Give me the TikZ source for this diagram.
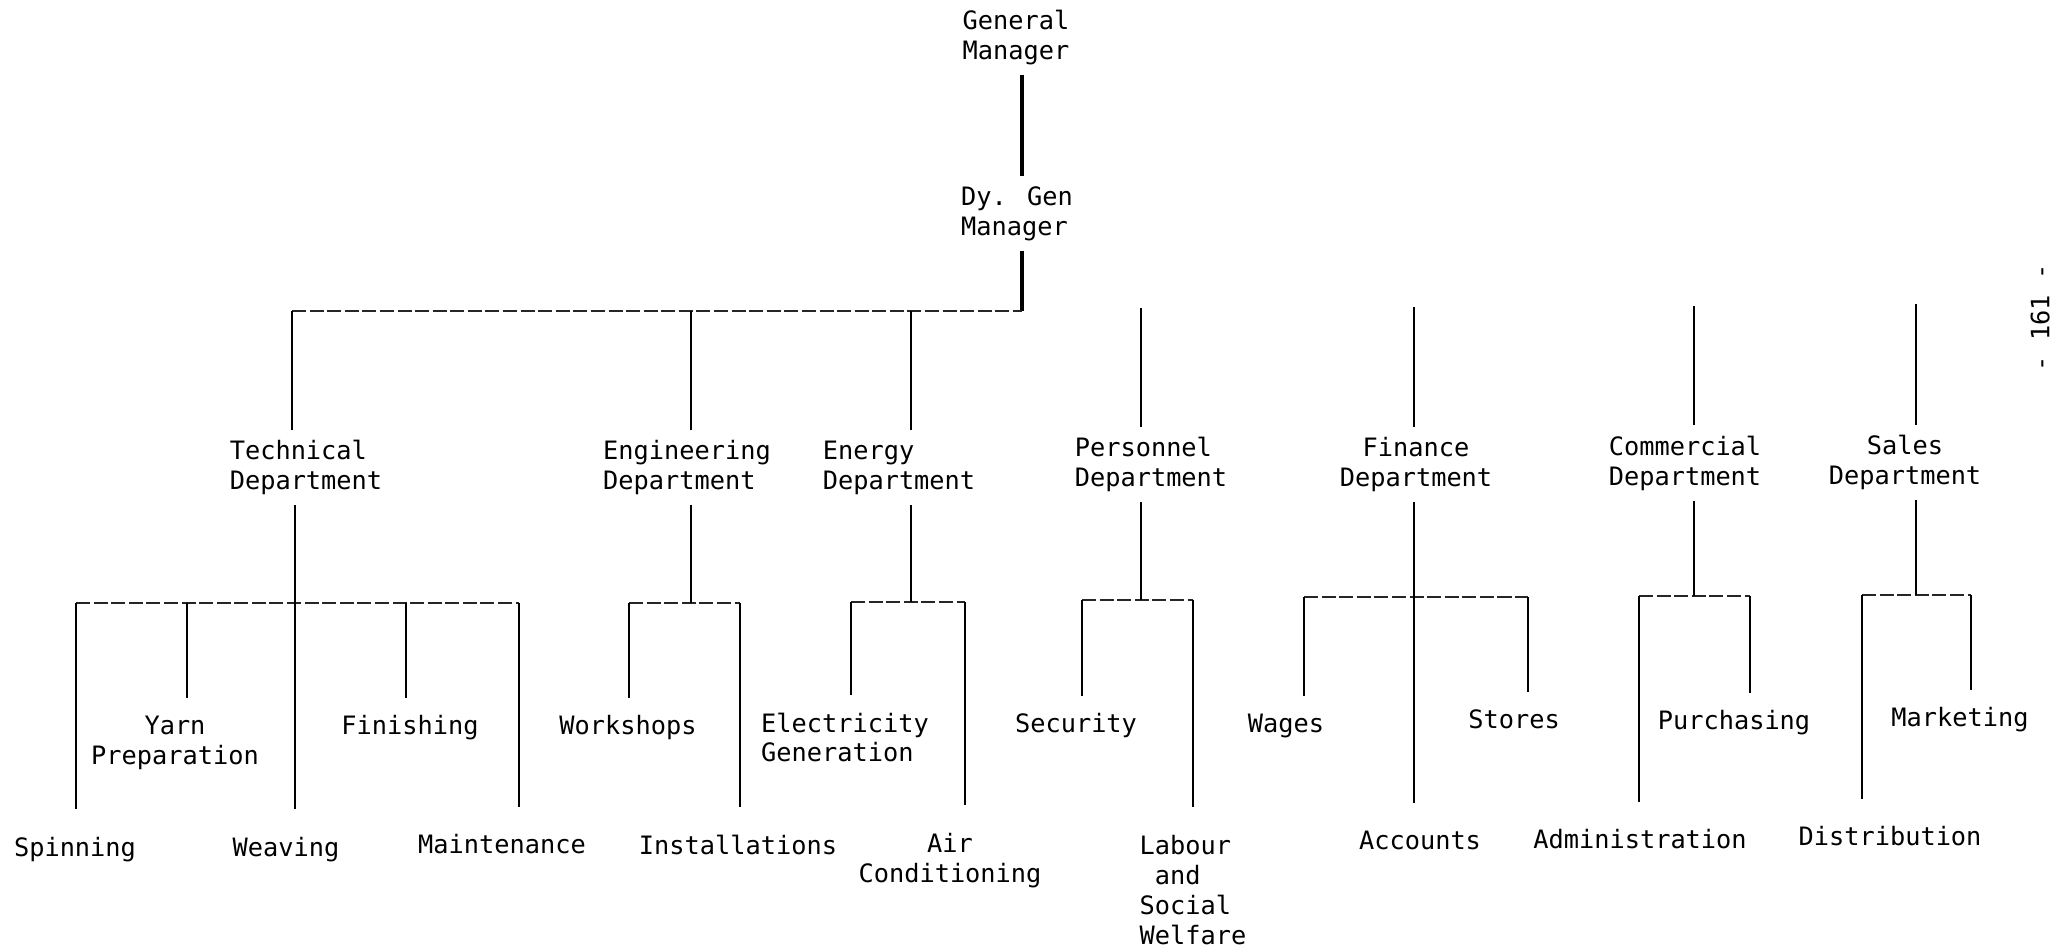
\documentclass[tikz,border=0pt]{standalone}
\usepackage{fontspec}
\newfontfamily\chartfont{DejaVu Sans Mono}
\usetikzlibrary{positioning}

\begin{document}
\begin{tikzpicture}[x=0.01cm, y=-0.01cm,
    post/.style={font=\chartfont\fontsize{7.2}{8.5}\selectfont, inner sep=0pt, outer sep=3pt, align=center},
    trunk/.style={line width=1.1pt},
    stem/.style={line width=0.6pt},
    leg/.style={line width=0.8pt},
    rail/.style={line width=0.5pt, black!85, dash pattern=on 4pt off 1pt},
    short/.style={leg, shorten >=2pt},
    long/.style={leg, shorten >=5pt}]

    \useasboundingbox (0,0) rectangle (2052,948);

    % managers
    \node[post, align=left] (gm) at (1016,37.5) {General\\Manager};
    \node[post, align=left] (dgm) at (1017,213.5) {Dy. Gen\\Manager};

    % departments
    \node[post, align=left] (tech) at (306,467.5) {Technical\\Department};
    \node[post, align=left] (eng) at (687,467.5) {Engineering\\Department};
    \node[post, align=left] (energy) at (899,467.5) {Energy\\Department};
    \node[post, align=left] (pers) at (1151,464.5) {Personnel\\Department};
    \node[post] (fin) at (1416,464.5) {Finance\\Department};
    \node[post] (comm) at (1685,463) {Commercial\\Department};
    \node[post] (sales) at (1905,462.5) {Sales\\Department};

    % sections, upper row
    \node[post] (yarn) at (175,742.5) {Yarn\\Preparation};
    \node[post] (fini) at (410,727.5) {Finishing};
    \node[post] (work) at (628,727.5) {Workshops};
    \node[post, align=left] (elec) at (845,737.5) {Electricity\\Generation};
    \node[post] (secu) at (1076,725.5) {Security};
    \node[post] (wage) at (1286,725.5) {Wages};
    \node[post] (stor) at (1514,719.5) {Stores};
    \node[post] (purc) at (1734,722.5) {Purchasing};
    \node[post] (mark) at (1960,719.5) {Marketing};

    % sections, lower row
    \node[post] (spin) at (75,849.5) {Spinning};
    \node[post] (weav) at (286,849.5) {Weaving};
    \node[post] (main) at (502,844.5) {Maintenance};
    \node[post] (inst) at (738,844.5) {Installations};
    \node[post] (air) at (950,860.5) {Air\\Conditioning};
    \node[post, align=left] (labo) at (1193,890) {Labour\\\hphantom{x}and\\Social\\Welfare};
    \node[post] (acco) at (1420,840.5) {Accounts};
    \node[post] (admi) at (1640,839.5) {Administration};
    \node[post] (dist) at (1890,836.5) {Distribution};

    % page number
    \node[post, rotate=90] (page) at (2040,318) {- 161 -};

    % top of the tree
    \coordinate (top) at (1022,311);
    \coordinate (techtop) at (292,311);
    \coordinate (engtop) at (691,311);
    \coordinate (enertop) at (911,311);
    \coordinate (perstop) at (1141,308);
    \coordinate (fintop) at (1414,307);
    \coordinate (commtop) at (1694,306);
    \coordinate (salestop) at (1916,304);

    \draw[trunk] (gm.south -| top) -- (dgm.north -| top);
    \draw[trunk] (dgm.south -| top) -- (top);
    \draw[rail] (techtop) -- (top);
    \draw[stem] (techtop) -- (techtop |- tech.north);
    \draw[stem] (engtop) -- (engtop |- eng.north);
    \draw[stem] (enertop) -- (enertop |- energy.north);
    \draw[stem] (perstop) -- (perstop |- pers.north);
    \draw[stem] (fintop) -- (fintop |- fin.north);
    \draw[stem] (commtop) -- (commtop |- comm.north);
    \draw[stem] (salestop) -- (salestop |- sales.north);

    % technical
    \coordinate (spin0) at (76,603);
    \coordinate (yarn0) at (187,603);
    \coordinate (weav0) at (295,603);
    \coordinate (fini0) at (406,603);
    \coordinate (main0) at (519,603);
    \draw[rail] (spin0) -- (main0);
    \draw[stem] (tech.south -| weav0) -- (weav0);
    \draw[long] (spin0) -- (spin0 |- spin.north);
    \draw[short] (yarn0) -- (yarn0 |- yarn.north);
    \draw[long] (weav0) -- (weav0 |- weav.north);
    \draw[short] (fini0) -- (fini0 |- fini.north);
    \draw[long] (main0) -- (main0 |- main.north);

    % engineering
    \coordinate (engbar) at (691,603);
    \coordinate (work0) at (629,603);
    \coordinate (inst0) at (740,603);
    \draw[rail] (work0) -- (inst0);
    \draw[stem] (eng.south -| engbar) -- (engbar);
    \draw[short] (work0) -- (work0 |- work.north);
    \draw[long] (inst0) -- (inst0 |- inst.north);

    % energy
    \coordinate (enerbar) at (911,602);
    \coordinate (elec0) at (851,602);
    \coordinate (air0) at (965,602);
    \draw[rail] (elec0) -- (air0);
    \draw[stem] (energy.south -| enerbar) -- (enerbar);
    \draw[short] (elec0) -- (elec0 |- elec.north);
    \draw[long] (air0) -- (air0 |- air.north);

    % personnel
    \coordinate (persbar) at (1141,600);
    \coordinate (secu0) at (1082,600);
    \coordinate (labo0) at (1193,600);
    \draw[rail] (secu0) -- (labo0);
    \draw[stem] (pers.south -| persbar) -- (persbar);
    \draw[short] (secu0) -- (secu0 |- secu.north);
    \draw[long] (labo0) -- (labo0 |- labo.north);

    % finance
    \coordinate (wage0) at (1304,597);
    \coordinate (acco0) at (1414,597);
    \coordinate (stor0) at (1528,597);
    \draw[rail] (wage0) -- (stor0);
    \draw[stem] (fin.south -| acco0) -- (acco0);
    \draw[short] (wage0) -- (wage0 |- wage.north);
    \draw[long] (acco0) -- (acco0 |- acco.north);
    \draw[short] (stor0) -- (stor0 |- stor.north);

    % commercial
    \coordinate (commbar) at (1694,596);
    \coordinate (admi0) at (1639,596);
    \coordinate (purc0) at (1750,596);
    \draw[rail] (admi0) -- (purc0);
    \draw[stem] (comm.south -| commbar) -- (commbar);
    \draw[long] (admi0) -- (admi0 |- admi.north);
    \draw[short] (purc0) -- (purc0 |- purc.north);

    % sales
    \coordinate (salesbar) at (1916,595);
    \coordinate (dist0) at (1862,595);
    \coordinate (mark0) at (1971,595);
    \draw[rail] (dist0) -- (mark0);
    \draw[stem] (sales.south -| salesbar) -- (salesbar);
    \draw[long] (dist0) -- (dist0 |- dist.north);
    \draw[short] (mark0) -- (mark0 |- mark.north);
\end{tikzpicture}
\end{document}
